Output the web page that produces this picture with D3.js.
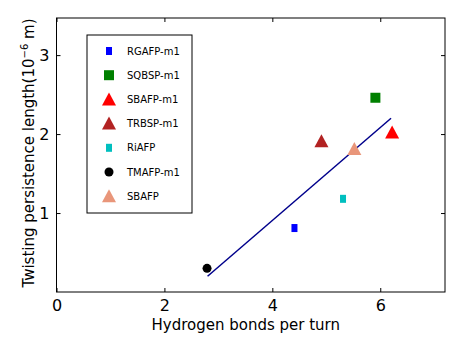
<!DOCTYPE html>
<html>
<head>
<meta charset="utf-8">
<script src="https://cdn.jsdelivr.net/npm/d3@7"></script>
<style>
body { margin:0; background:#fff; }
text { font-family: "DejaVu Sans", sans-serif; }
</style>
</head>
<body>
<div class="chart"></div>
<script>
// data
var names = ["RGAFP-m1", "SQBSP-m1", "SBAFP-m1", "TRBSP-m1", "RiAFP", "TMAFP-m1", "SBAFP"];
var hbonds = [4.41, 5.91, 6.22, 4.91, 5.31, 2.79, 5.52];
var persistence = [0.81, 2.46, 2.02, 1.91, 1.18, 0.30, 1.81];
var markers = ["rect", "square", "triangle", "triangle", "rect", "circle", "triangle"];
var colors = ["#0000ff", "#008000", "#ff0000", "#b22222", "#00bfbf", "#000000", "#e9967a"];
var fitX = [2.8, 6.2];
var fitY = [0.2, 2.2];
var xTicks = [0, 2, 4, 6];
var yTicks = [1, 2, 3];

var svgWidth = 467, svgHeight = 346;
var margin = {top: 18, right: 22, bottom: 54, left: 56.5};
var width = svgWidth - margin.left - margin.right;
var height = svgHeight - margin.top - margin.bottom;

var svg = d3.select(".chart").append("svg")
  .attr("width", svgWidth)
  .attr("height", svgHeight);
var chart = svg.append("g")
  .attr("transform", "translate(" + margin.left + "," + margin.top + ")");

var x = d3.scaleLinear().domain([0, 7.2]).range([0, width]);
var y = d3.scaleLinear().domain([0, 3.47]).range([height, 0]);

// axes with inward ticks
chart.append("g")
  .attr("transform", "translate(0," + height + ")")
  .call(d3.axisBottom(x).tickValues(xTicks).tickSize(-4).tickPadding(8).tickFormat(d3.format("d")))
  .call(function(g) { g.select(".domain").remove(); g.selectAll("text").attr("font-size", 16).attr("fill", "#000"); });
chart.append("g")
  .call(d3.axisTop(x).tickValues(xTicks).tickSize(-4).tickFormat(""))
  .call(function(g) { g.select(".domain").remove(); });
chart.append("g")
  .call(d3.axisLeft(y).tickValues(yTicks).tickSize(-4).tickPadding(7).tickFormat(d3.format("d")))
  .call(function(g) { g.select(".domain").remove(); g.selectAll("text").attr("font-size", 16).attr("fill", "#000"); });
chart.append("g")
  .attr("transform", "translate(" + width + ",0)")
  .call(d3.axisRight(y).tickValues(yTicks).tickSize(-4).tickFormat(""))
  .call(function(g) { g.select(".domain").remove(); });

chart.append("rect")
  .attr("width", width).attr("height", height)
  .attr("fill", "none").attr("stroke", "#000").attr("stroke-width", 1);

// fitted line
var line = d3.line().x(function(d) { return x(d[0]); }).y(function(d) { return y(d[1]); });
chart.append("path")
  .datum(d3.zip(fitX, fitY))
  .attr("d", line)
  .attr("fill", "none").attr("stroke", "#00008b").attr("stroke-width", 1.5);

function drawMarker(g, type, color) {
  if (type == "rect") {
    g.append("rect").attr("x", -3).attr("y", -4).attr("width", 6).attr("height", 8).attr("fill", color);
  } else if (type == "square") {
    g.append("rect").attr("x", -5).attr("y", -5).attr("width", 10).attr("height", 10).attr("fill", color);
  } else if (type == "triangle") {
    g.append("path").attr("d", "M0,-7L7,6L-7,6Z").attr("fill", color);
  } else {
    g.append("circle").attr("r", 4.5).attr("fill", color);
  }
}

var pts = chart.append("g").selectAll("g")
  .data(d3.range(names.length))
  .enter().append("g")
  .attr("transform", function(i) { return "translate(" + x(hbonds[i]) + "," + y(persistence[i]) + ")"; });
pts.each(function(i) { drawMarker(d3.select(this), markers[i], colors[i]); });

// legend
var legend = svg.append("g").attr("transform", "translate(87,35)");
legend.append("rect").attr("width", 105).attr("height", 178)
  .attr("fill", "#fff").attr("stroke", "#000").attr("stroke-width", 1);
var items = legend.selectAll("g.item")
  .data(d3.range(names.length))
  .enter().append("g")
  .attr("class", "item")
  .attr("transform", function(i) { return "translate(22," + (16 + i * 24.2) + ")"; });
items.each(function(i) { drawMarker(d3.select(this), markers[i], colors[i]); });
items.append("text")
  .attr("x", 18).attr("dy", "0.35em")
  .attr("font-size", 10)
  .text(function(i) { return names[i]; });

// axis labels
svg.append("text")
  .attr("x", margin.left + width / 2 - 5).attr("y", 330)
  .attr("text-anchor", "middle").attr("font-size", 15)
  .text("Hydrogen bonds per turn");
var yl = svg.append("text")
  .attr("transform", "translate(34," + (margin.top + height / 2 - 2) + ") rotate(-90)")
  .attr("text-anchor", "middle").attr("font-size", 15);
yl.append("tspan").text("Twisting persistence length(10");
yl.append("tspan").attr("dy", -6).attr("font-size", 10).text("−6");
yl.append("tspan").attr("dy", 6).text(" m)");
</script>
</body>
</html>
